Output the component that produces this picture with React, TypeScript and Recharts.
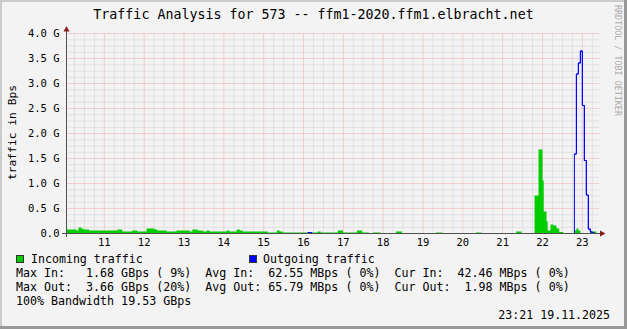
import { ComposedChart, Area, Line, XAxis, YAxis, CartesianGrid } from "recharts";

const FONT = "'DejaVu Sans Mono', monospace";

// x axis: hour labels
const HOURS = [11, 12, 13, 14, 15, 16, 17, 18, 19, 20, 21, 22, 23];
// y axis: labelled steps in GBps
const Y_MAJOR = [0, 0.5, 1, 1.5, 2, 2.5, 3, 3.5, 4];

// incoming traffic, step start times (decimal hours) and GBps
const IN_T = [
  10.05, 10.3, 10.35, 10.42, 10.47, 10.62, 11.33, 11.45, 11.7, 11.83, 12.06, 12.26, 12.33, 12.56, 12.81,
  13.14, 13.21, 13.34, 13.47, 13.57, 13.64, 14.07, 14.14, 14.32, 14.4, 14.47, 15.1, 15.33, 15.4, 15.48,
  16.11, 16.21, 16.36, 16.43, 16.86, 16.99, 17.34, 17.47, 17.64, 17.74, 17.94, 18.32, 18.47, 19.33, 19.48,
  20.33, 20.46, 21.34, 21.47, 21.8, 21.9, 22.0, 22.03, 22.1, 22.13, 22.2, 22.27, 22.35, 22.42, 22.52,
  22.8, 22.85, 22.9, 22.95, 23.2, 23.35,
];
const IN_V = [
  0.08, 0.06, 0.12, 0.1, 0.08, 0.06, 0.08, 0.04, 0.06, 0.04, 0.1, 0.08, 0.06, 0.04, 0.06,
  0.04, 0.08, 0.06, 0.04, 0.06, 0.04, 0.06, 0.04, 0.08, 0.06, 0.04, 0.02, 0.06, 0.04, 0.02,
  0, 0.02, 0.04, 0.02, 0.06, 0.02, 0.06, 0.02, 0, 0.02, 0, 0.04, 0, 0.02, 0,
  0.02, 0, 0.04, 0, 0.76, 1.68, 1.06, 0.44, 0.24, 0.06, 0.18, 0.16, 0.1, 0.03, 0,
  0.06, 0.1, 0.06, 0, 0.04, 0.04,
];

// outgoing traffic
const OUT_T = [10.05, 16.11, 16.21, 22.8, 22.85, 22.9, 22.95, 23.0, 23.05, 23.1, 23.15, 23.2, 23.25, 23.3, 23.35];
const OUT_V = [0, 0.02, 0, 1.59, 3.19, 3.41, 3.65, 2.56, 1.46, 0.77, 0.09, 0.03, 0.01, 0, 0];

const LEGEND_ROWS = [
  "Max In:   1.68 GBps ( 9%)  Avg In:  62.55 MBps ( 0%)  Cur In:  42.46 MBps ( 0%)",
  "Max Out:  3.66 GBps (20%)  Avg Out: 65.79 MBps ( 0%)  Cur Out:  1.98 MBps ( 0%)",
  "100% Bandwidth 19.53 GBps",
];

const inData = IN_T.map((t, i) => ({ t, v: IN_V[i] }));
const outData = OUT_T.map((t, i) => ({ t, v: OUT_V[i] }));

// minor grid: quarter hours and 1/8 GBps
const X_MINOR = HOURS.flatMap((h) => [h - 0.75, h - 0.5, h - 0.25]).concat([23.25]);
const Y_MINOR = Y_MAJOR.slice(1).flatMap((v) => [v - 0.375, v - 0.25, v - 0.125]);

const fmtY = (v: number) => (v === 0 ? "0.0" : v.toFixed(1) + " G");

export default function App() {
  const txt = { fontFamily: FONT, fill: "#000" } as const;
  return (
    <div style={{ position: "relative", width: 627, height: 329, background: "#f3f3f3", overflow: "hidden" }}>
      <style>{"body{margin:0}"}</style>

      {/* frame, under the plot */}
      <svg width={627} height={329} style={{ position: "absolute", left: 0, top: 0 }}>
        <rect x={0} y={0} width={627} height={2} fill="#cbcbcb" />
        <rect x={0} y={0} width={2} height={329} fill="#cbcbcb" />
        <rect x={0} y={326} width={627} height={3} fill="#999" />
        <rect x={624} y={0} width={3} height={329} fill="#999" />
      </svg>

      <div style={{ position: "absolute", left: 0, top: 0 }}>
        <ComposedChart width={627} height={329} margin={{ top: 33.5, right: 27.9, bottom: 65.5, left: 0.5 }}>
          <CartesianGrid stroke="#d0d0d0" strokeDasharray="1 1" horizontalValues={Y_MINOR} verticalValues={X_MINOR} />
          <CartesianGrid stroke="#efaaaa" strokeDasharray="1 1" horizontalValues={Y_MAJOR.slice(1)} verticalValues={HOURS} />
          <XAxis
            type="number" dataKey="t" domain={[10.05, 23.42]} ticks={HOURS} interval={0} allowDataOverflow
            height={30} tickLine={false} axisLine={false} tickSize={3} tickMargin={2}
            tick={{ fontFamily: FONT, fontSize: 10.5, fill: "#000" }}
          />
          <YAxis
            type="number" domain={[0, 4]} ticks={Y_MAJOR} interval={0} allowDataOverflow width={66}
            tickLine={false} axisLine={false} tickSize={4} tickMargin={3} tickFormatter={fmtY}
            tick={{ fontFamily: FONT, fontSize: 10.5, fill: "#000" }}
          />
          <Line data={outData} dataKey="v" type="stepAfter" stroke="#0000ff" strokeWidth={1} dot={false} isAnimationActive={false} />
          <Area data={inData} dataKey="v" type="stepAfter" fill="#00cc00" fillOpacity={1} stroke="none" isAnimationActive={false} />
          <Line data={outData.slice(3)} dataKey="v" type="stepAfter" stroke="#0000ff" strokeWidth={1} dot={false} isAnimationActive={false} />
        </ComposedChart>
      </div>

      {/* axes, arrows and texts on top */}
      <svg width={627} height={329} style={{ position: "absolute", left: 0, top: 0, pointerEvents: "none" }}>
        <line x1={62} y1={233.5} x2={600} y2={233.5} stroke="#505050" />
        <line x1={66.5} y1={30} x2={66.5} y2={237} stroke="#505050" />
        <polygon points="63.5,31.5 69.5,31.5 66.5,26" fill="#8b1c1c" />
        <polygon points="600,230.5 600,236.5 605.5,233.5" fill="#8b1c1c" />

        <text x={313.5} y={18.5} textAnchor="middle" fontSize={13.3} {...txt}>
          Traffic Analysis for 573 -- ffm1-2020.ffm1.elbracht.net
        </text>
        <text transform="translate(15.5,132.5) rotate(-90)" textAnchor="middle" fontSize={11.3} {...txt}>
          traffic in Bps
        </text>
        <text transform="translate(615,5) rotate(90)" fontSize={8.4} fontFamily={FONT} fill="#ababab">
          RRDTOOL / TOBI OETIKER
        </text>

        <rect x={16.5} y={255.5} width={7} height={7} fill="#00cc00" stroke="#333" />
        <text x={31} y={263.3} fontSize={11.6} {...txt}>Incoming traffic</text>
        <rect x={249.5} y={255.5} width={7} height={7} fill="#0000ff" stroke="#333" />
        <text x={263} y={263.3} fontSize={11.6} {...txt}>Outgoing traffic</text>
        {LEGEND_ROWS.map((row, i) => (
          <text key={i} x={16} y={277.3 + i * 14} fontSize={11.65} xmlSpace="preserve" style={{ whiteSpace: "pre" }} {...txt}>
            {row}
          </text>
        ))}
        <text x={610} y={319.3} textAnchor="end" fontSize={11.6} {...txt}>23:21 19.11.2025</text>
      </svg>
    </div>
  );
}
